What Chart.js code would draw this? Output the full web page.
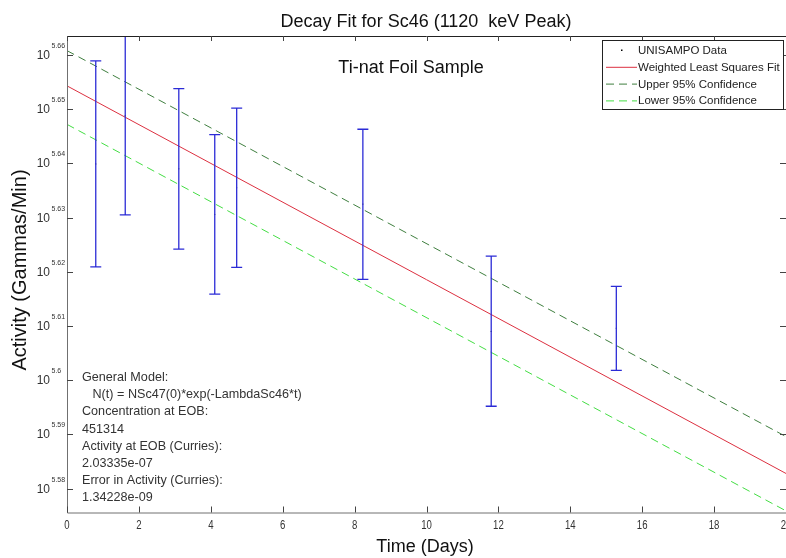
<!DOCTYPE html>
<html>
<head>
<meta charset="utf-8">
<script src="https://cdn.jsdelivr.net/npm/chart.js@4.4.0/dist/chart.umd.min.js"></script>
<style>
html, body { margin: 0; padding: 0; background: #fff; }
</style>
</head>
<body>
<canvas id="chart_canvas" width="786" height="558"></canvas>
<script>
// values are log10 of activity (gammas/min), the axis shows them as 10^x
const days = [0.80, 1.62, 3.11, 4.11, 4.72, 8.23, 11.80, 15.28];
const activity = [5.6399, 5.6488, 5.6390, 5.6306, 5.6355, 5.6325, 5.6090, 5.6096];
const barTop = [5.6589, 5.6670, 5.6538, 5.6453, 5.6502, 5.6463, 5.6229, 5.6173];
const barBottom = [5.6209, 5.6305, 5.6242, 5.6159, 5.6208, 5.6186, 5.5952, 5.6018];

const fitDays = [0, 20];
const fitLine = [5.6543, 5.5828];
const upperLine = [5.6608, 5.5896];
const lowerLine = [5.6472, 5.5759];

const xTicks = [0, 2, 4, 6, 8, 10, 12, 14, 16, 18, 20];
const yTicks = [5.58, 5.59, 5.60, 5.61, 5.62, 5.63, 5.64, 5.65, 5.66];
const yTickLabels = ['5.58', '5.59', '5.6', '5.61', '5.62', '5.63', '5.64', '5.65', '5.66'];

const chartTitle = 'Decay Fit for Sc46 (1120  keV Peak)';
const subTitle = 'Ti-nat Foil Sample';
const xTitle = 'Time (Days)';
const yTitle = 'Activity (Gammas/Min)';
const infoLines = [
    'General Model:',
    '   N(t) = NSc47(0)*exp(-LambdaSc46*t)',
    'Concentration at EOB:',
    '451314',
    'Activity at EOB (Curries):',
    '2.03335e-07',
    'Error in Activity (Curries):',
    '1.34228e-09'
];

const FONT = '"Liberation Sans", Arial, Helvetica, sans-serif';
const ctx = document.getElementById('chart_canvas');

function pairs(xs, ys) {
    return xs.map(function (x, i) { return {x: x, y: ys[i]}; });
}

function narrowText(c, txt, x, y, sx, align) {
    c.save();
    c.translate(x, y);
    c.scale(sx, 1);
    c.textAlign = align;
    c.fillText(txt, 0, 0);
    c.restore();
}

const matlabFrame = {
    id: 'matlabFrame',
    afterDatasetsDraw: function (chart) {
        const c = chart.ctx;
        const a = chart.chartArea;
        const xs = chart.scales.x;
        const ys = chart.scales.y;

        // error bars
        c.save();
        c.beginPath();
        c.rect(a.left, a.top, a.right - a.left, a.bottom - a.top);
        c.clip();
        c.strokeStyle = '#2b2bd6';
        c.lineWidth = 1.3;
        for (let i = 0; i < days.length; i++) {
            const px = xs.getPixelForValue(days[i]);
            const pt = ys.getPixelForValue(barTop[i]);
            const pb = ys.getPixelForValue(barBottom[i]);
            c.beginPath();
            c.moveTo(px, pt); c.lineTo(px, pb);
            c.moveTo(px - 5.5, pt); c.lineTo(px + 5.5, pt);
            c.moveTo(px - 5.5, pb); c.lineTo(px + 5.5, pb);
            c.stroke();
        }
        c.restore();
    },
    afterDraw: function (chart) {
        const c = chart.ctx;
        const a = chart.chartArea;
        const xs = chart.scales.x;
        const ys = chart.scales.y;

        c.save();
        // axes box (right edge falls off the canvas)
        c.lineWidth = 1;
        c.strokeStyle = '#707070';
        c.beginPath();
        c.moveTo(a.left + 0.5, a.top);
        c.lineTo(a.left + 0.5, a.bottom + 0.5);
        c.lineTo(a.right, a.bottom + 0.5);
        c.stroke();
        c.strokeStyle = '#222';
        c.beginPath();
        c.moveTo(a.left, a.top + 0.5);
        c.lineTo(a.right, a.top + 0.5);
        c.stroke();

        // inner tick marks
        c.strokeStyle = '#444';
        c.beginPath();
        xTicks.forEach(function (t) {
            const px = Math.round(xs.getPixelForValue(t)) + 0.5;
            c.moveTo(px, a.bottom); c.lineTo(px, a.bottom - 6);
            c.moveTo(px, a.top); c.lineTo(px, a.top + 5);
        });
        yTicks.forEach(function (t) {
            const py = Math.round(ys.getPixelForValue(t)) + 0.5;
            c.moveTo(a.left, py); c.lineTo(a.left + 6, py);
            c.moveTo(a.right, py); c.lineTo(a.right - 6, py);
        });
        c.stroke();

        // tick labels
        c.fillStyle = '#333';
        c.textBaseline = 'alphabetic';
        c.font = '12px ' + FONT;
        xTicks.forEach(function (t) {
            narrowText(c, String(t), xs.getPixelForValue(t), a.bottom + 16.5, 0.8, 'center');
        });
        yTicks.forEach(function (t, i) {
            const py = ys.getPixelForValue(t);
            c.font = '12px ' + FONT;
            c.textAlign = 'right';
            c.fillText('10', 50, py + 4);
            c.font = '7px ' + FONT;
            c.textAlign = 'left';
            c.fillText(yTickLabels[i], 51.5, py - 7);
        });

        // titles
        c.fillStyle = '#111';
        c.font = '18px ' + FONT;
        c.textAlign = 'center';
        c.fillText(chartTitle, 426, 27);
        c.fillText(subTitle, 411, 73);
        narrowText(c, xTitle, 425, 552, 1.0, 'center');
        c.save();
        c.translate(26, 270);
        c.rotate(-Math.PI / 2);
        c.font = '20px ' + FONT;
        c.textAlign = 'center';
        c.fillText(yTitle, 0, 0);
        c.restore();

        // model text
        c.fillStyle = '#333';
        c.font = '13px ' + FONT;
        infoLines.forEach(function (line, i) {
            narrowText(c, line, 82, 381 + i * 17.2, 0.97, 'left');
        });

        // legend box
        const lx = 602, ly = 40, lw = 181, lh = 69;
        c.fillStyle = '#fff';
        c.fillRect(lx, ly, lw, lh);
        c.strokeStyle = '#222';
        c.strokeRect(lx + 0.5, ly + 0.5, lw, lh);
        c.font = '11.5px ' + FONT;
        c.textAlign = 'left';
        chart.data.datasets.forEach(function (ds, i) {
            const by = 54 + i * 16.8;
            const my = by - 4;
            c.fillStyle = '#222';
            c.fillText(ds.label, 638, by);
            if (ds.showLine) {
                c.strokeStyle = ds.borderColor;
                c.lineWidth = 1;
                c.setLineDash(ds.borderDash || []);
                c.beginPath();
                c.moveTo(606, my + 0.5); c.lineTo(637, my + 0.5);
                c.stroke();
                c.setLineDash([]);
            } else {
                c.fillStyle = '#000';
                c.fillRect(621, my - 0.5, 1.5, 1.5);
            }
        });
        c.restore();
    }
};

const chartDraw = new Chart(ctx, {
    type: 'scatter',
    data: {
        datasets: [{
            label: 'UNISAMPO Data',
            data: pairs(days, activity),
            showLine: false,
            pointRadius: 0.6,
            pointHoverRadius: 0,
            pointBackgroundColor: '#000',
            pointBorderWidth: 0
        }, {
            label: 'Weighted Least Squares Fit',
            data: pairs(fitDays, fitLine),
            showLine: true,
            borderColor: '#dc3040',
            borderWidth: 1,
            pointRadius: 0
        }, {
            label: 'Upper 95% Confidence',
            data: pairs(fitDays, upperLine),
            showLine: true,
            borderColor: '#3f7f3f',
            borderWidth: 1,
            borderDash: [8, 5],
            pointRadius: 0
        }, {
            label: 'Lower 95% Confidence',
            data: pairs(fitDays, lowerLine),
            showLine: true,
            borderColor: '#44dd44',
            borderWidth: 1,
            borderDash: [8, 5],
            pointRadius: 0
        }]
    },
    options: {
        responsive: false,
        animation: false,
        layout: {
            autoPadding: false,
            padding: {left: 67, right: 0, top: 36, bottom: 45.5}
        },
        plugins: {
            legend: {display: false},
            title: {display: false},
            tooltip: {enabled: false}
        },
        scales: {
            x: {
                type: 'linear',
                display: false,
                min: 0,
                max: 20
            },
            y: {
                type: 'linear',
                display: false,
                min: 5.5756,
                max: 5.6635
            }
        }
    },
    plugins: [matlabFrame]
});
</script>
</body>
</html>
